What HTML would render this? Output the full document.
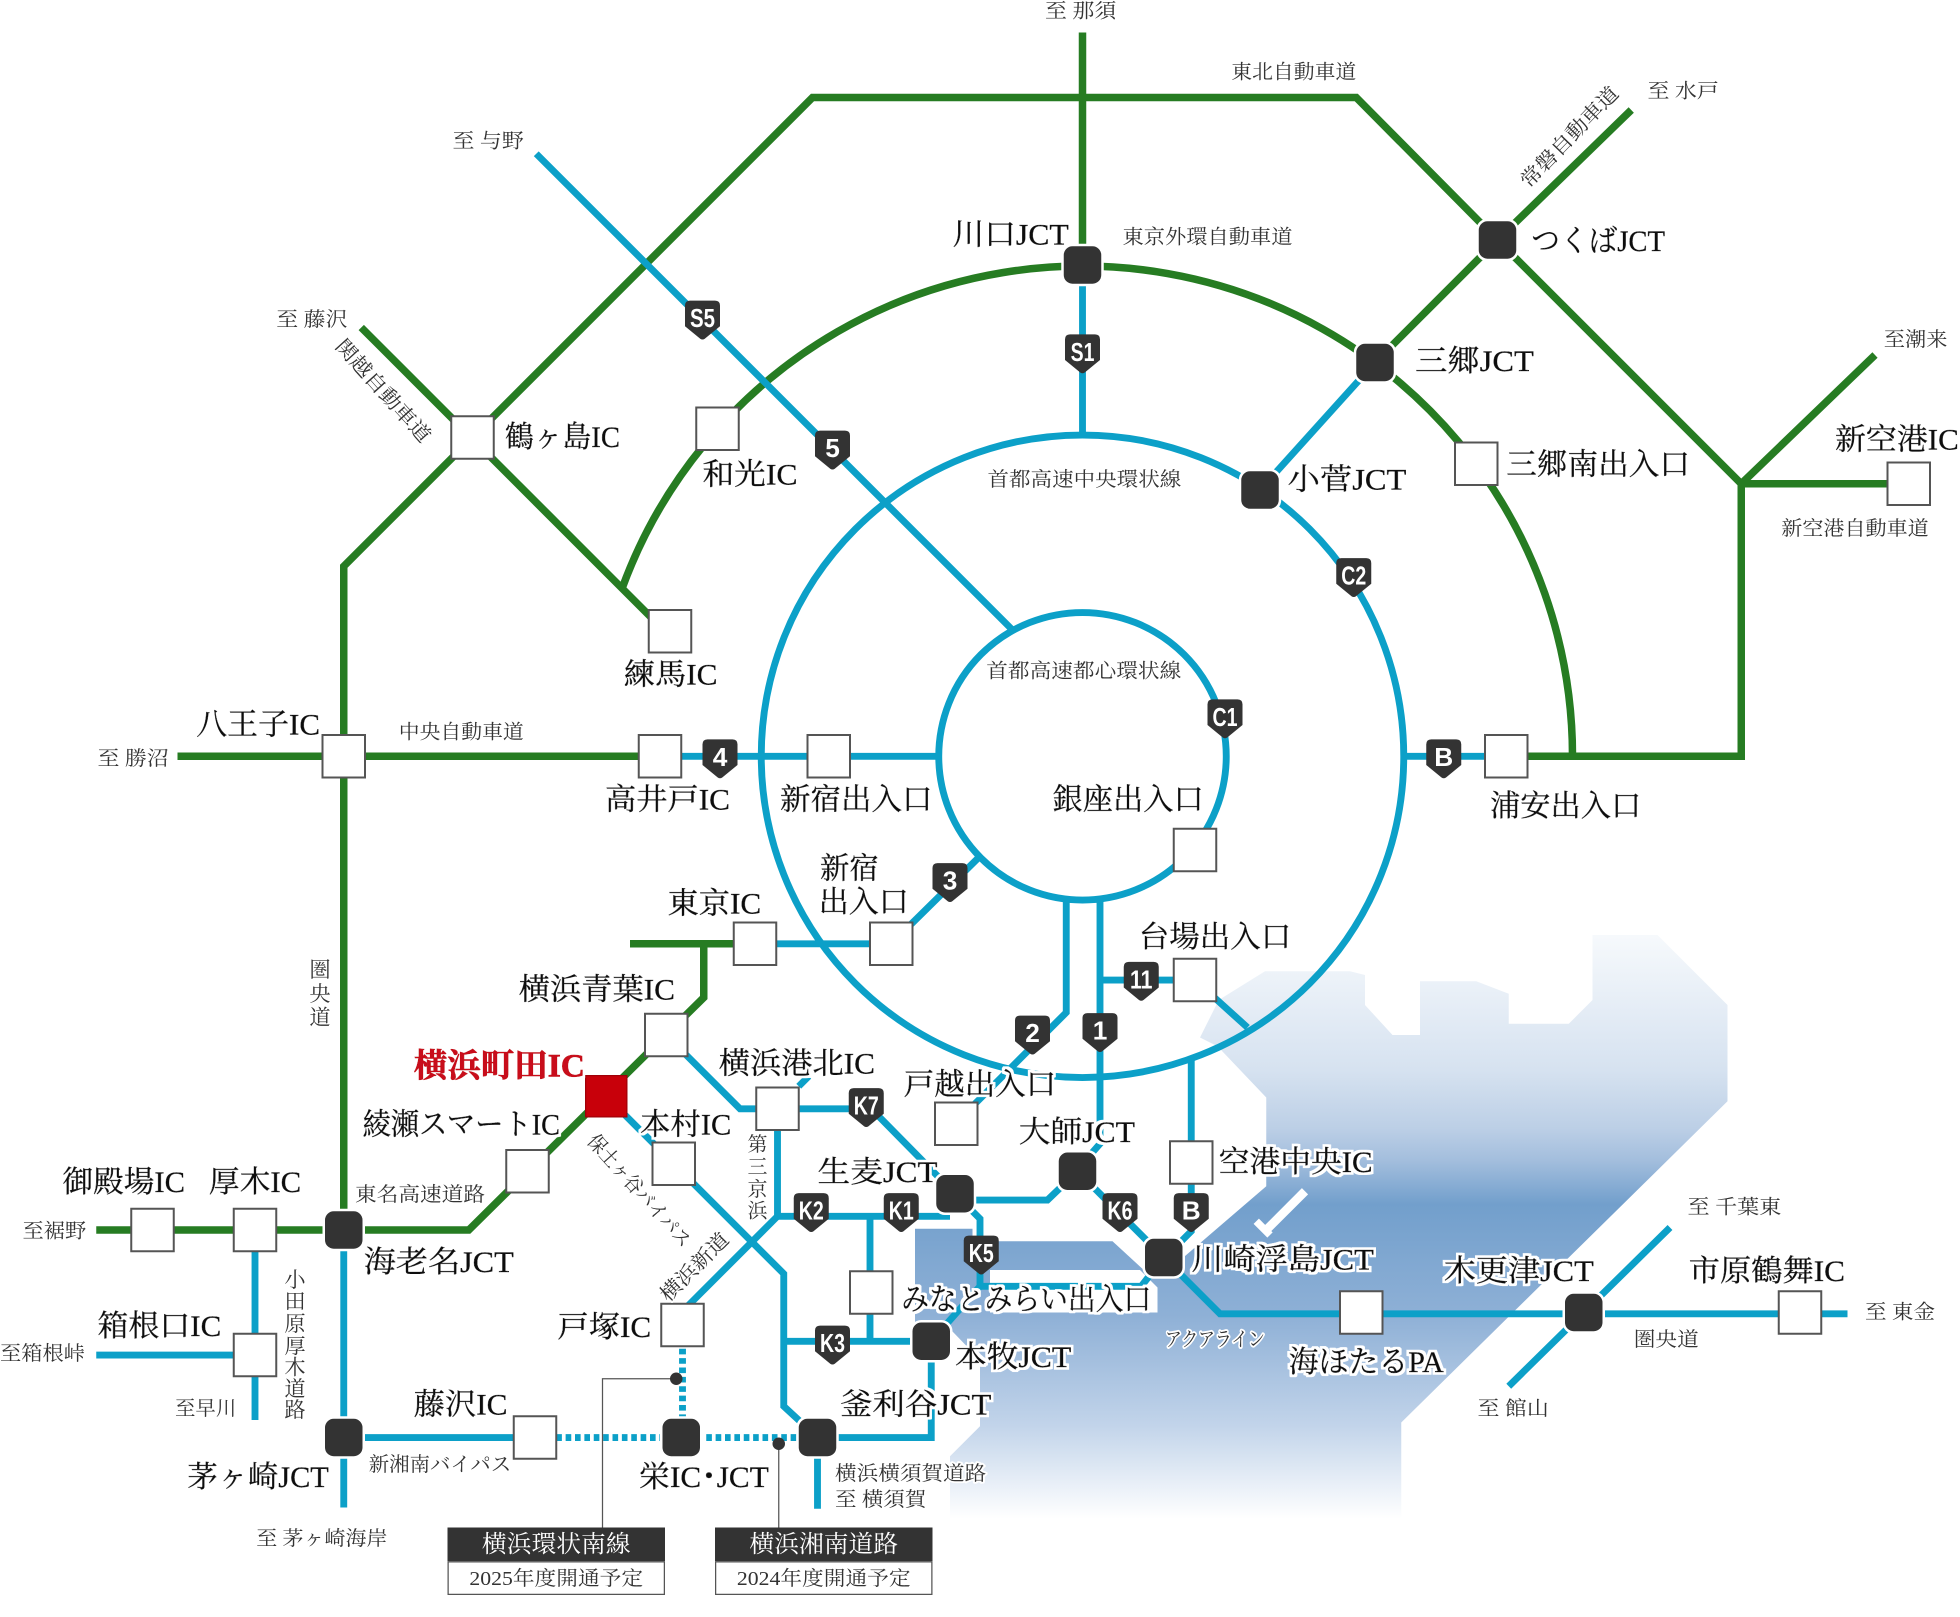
<!DOCTYPE html>
<html><head><meta charset="utf-8">
<style>
html,body{margin:0;padding:0;background:#fff;}
svg{display:block;}
.L{font-family:"Liberation Serif","Noto Serif CJK SC",serif;font-size:24px;fill:#111;stroke:#111;stroke-width:0.35px;dominant-baseline:central;filter:url(#halo);}
.R{font-family:"Liberation Serif","Noto Serif CJK SC",serif;font-size:26px;fill:#c8101a;stroke:#c8101a;stroke-width:0.6px;dominant-baseline:central;font-weight:bold;filter:url(#halo);}
.s{font-family:"Liberation Serif","Noto Serif CJK SC",serif;font-size:16px;fill:#333;stroke:#fff;stroke-width:3px;stroke-linejoin:round;paint-order:stroke;dominant-baseline:central;}
.v{font-family:"Liberation Serif","Noto Serif CJK SC",serif;font-size:17px;fill:#333;text-anchor:middle;dominant-baseline:central;}
.g{fill:none;stroke:#267c22;stroke-width:6;}
.b{fill:none;stroke:#0ca0c8;stroke-width:5.5;}
.d{fill:none;stroke:#0ca0c8;stroke-width:5.5;stroke-dasharray:4.5 3;}
.sh text{font-family:"Liberation Sans Narrow","Liberation Sans","DejaVu Sans",sans-serif;font-weight:bold;font-size:21px;fill:#fff;text-anchor:middle;dominant-baseline:central;}
.ic{fill:#fff;stroke:#555;stroke-width:1.6;}
.jc{fill:#333;stroke:#fff;stroke-width:2;}
.bx{font-family:"Liberation Serif","Noto Serif CJK SC",serif;text-anchor:middle;dominant-baseline:central;}
</style></head>
<body>
<svg width="1960" height="1617" viewBox="0 0 1568 1293.6" xmlns="http://www.w3.org/2000/svg">
<defs>
<filter id="halo" x="-0.1" y="-0.4" width="1.2" height="1.8">
<feMorphology in="SourceAlpha" operator="dilate" radius="2" result="dil"/>
<feFlood flood-color="#fff" result="w"/>
<feComposite in="w" in2="dil" operator="in" result="wh"/>
<feMerge><feMergeNode in="wh"/><feMergeNode in="SourceGraphic"/></feMerge>
</filter>
<linearGradient id="wg" x1="0" y1="749" x2="0" y2="1215" gradientUnits="userSpaceOnUse">
<stop offset="0" stop-color="#f6f9fc"/>
<stop offset="0.23" stop-color="#d6e2f0"/>
<stop offset="0.33" stop-color="#bccfe6"/>
<stop offset="0.385" stop-color="#a3bedd"/>
<stop offset="0.46" stop-color="#729fcc"/>
<stop offset="0.65" stop-color="#8eb0d6"/>
<stop offset="0.84" stop-color="#c2d4ea"/>
<stop offset="1" stop-color="#ffffff"/>
</linearGradient>
<path id="shp" d="M-14,-11.5 Q-14,-15.5 -10,-15.5 H10 Q14,-15.5 14,-11.5 V5 L1.8,15 Q0,16.2 -1.8,15 L-14,5 Z"/>
</defs>

<!-- water -->
<path fill="url(#wg)" d="M975,800 L1012,777 L1080,777 L1092,780 L1092,804 L1114,828 L1136,828 L1136,785 L1181,785 L1207,795 L1207,819 L1255,819 L1274,800 L1274,748 L1326,748 L1382,804 L1382,881 L1121,1138 L1121,1215 L760,1215 L760,1165 L784,1141 L784,1088 L757,1060 L732,1060 L732,983 L778,983 L778,993 L890,993 L915,1016 L935,1016 L1013,949 L1013,878 L974,837 L960,830 Z"/>
<path fill="#fff" d="M792,1016 H912 L926,1030 V1050 H792 Z"/>
<path d="M1011,986 L1044,953" stroke="#fff" stroke-width="7" fill="none"/>
<path d="M1005,977 L1016,988" stroke="#fff" stroke-width="6" fill="none"/>

<!-- green lines -->
<path class="g" d="M866,26 V212"/>
<path class="g" d="M275,985 V453 L650,78 H1085 L1198,192"/>
<path class="g" d="M289,262 L530,503"/>
<path class="g" d="M497.6,470.9 A392 392 0 0 1 1258,605"/>
<path class="g" d="M1198,192 L1305,88"/>
<path class="g" d="M1198,192 L1100,290"/>
<path class="g" d="M1198,192 L1393,387 V605 H1205"/>
<path class="g" d="M1393,387 L1500,284"/>
<path class="g" d="M1393,387 H1527"/>
<path class="g" d="M142,605 H528"/>
<path class="g" d="M504,755 H604"/>
<path class="g" d="M563,755 V798 L375,984 H77"/>

<!-- blue lines -->
<path class="b" d="M429,123 L809,503"/>
<path class="b" d="M866,212 V348"/>
<path class="b" d="M1100,290 L1008,392"/>
<circle class="b" cx="866" cy="605" r="257"/>
<circle class="b" cx="866" cy="605" r="115"/>
<path class="b" d="M528,605 H751"/>
<path class="b" d="M1122,605 H1205"/>
<path class="b" d="M713,755 L785,684"/>
<path class="b" d="M604,755 H713"/>
<path class="b" d="M853,719 V810 L765,898"/>
<path class="b" d="M880,719 V915 L866,931"/>
<path class="b" d="M880,784 H956"/>
<path class="b" d="M956,784 L998,822"/>
<path class="b" d="M953,847 V985 L934,1004"/>
<path class="b" d="M862,937 L931,1006"/>
<path class="b" d="M764,960 H838 L862,937"/>
<path class="b" d="M764,955 L784,975 V1029 H913 L931,1006"/>
<path class="b" d="M784,1029 L745,1073"/>
<path class="b" d="M533,828 L592,887 H697 L764,955"/>
<path class="b" d="M639,869 L647,861"/>
<path class="b" d="M622,887 V973 H760"/>
<path class="b" d="M622,973 L546,1049"/>
<path class="b" d="M485,877 L627,1019 V1125 L654,1150"/>
<path class="b" d="M627,1073 H745"/>
<path class="b" d="M696,973 V1073"/>
<path class="b" d="M745,1073 V1150 H654"/>
<path class="b" d="M654,1150 V1207"/>
<path class="b" d="M275,984 V1206"/>
<path class="b" d="M275,1150 H428"/>
<path class="d" d="M445,1150 H640"/>
<path class="d" d="M546,1079 V1140"/>
<path class="b" d="M77,1084 H204"/>
<path class="b" d="M204,984 V1136"/>
<path class="b" d="M931,1006 L976,1051 H1478"/>
<path class="b" d="M1336,982 L1207,1109"/>

<!-- leader lines -->
<path d="M482,1222 V1103 H541" stroke="#555" stroke-width="1" fill="none"/>
<path d="M623,1222 V1155" stroke="#555" stroke-width="1" fill="none"/>
<circle cx="541" cy="1103" r="5" fill="#333"/>
<circle cx="623" cy="1155" r="5" fill="#333"/>

<!-- shields -->
<g class="sh">
<g transform="translate(562,256)"><use href="#shp" fill="#333"/><text y="-1.5" textLength="20" lengthAdjust="spacingAndGlyphs">S5</text></g>
<g transform="translate(666,360)"><use href="#shp" fill="#333"/><text y="-1.5">5</text></g>
<g transform="translate(866,283)"><use href="#shp" fill="#333"/><text y="-1.5" textLength="19" lengthAdjust="spacingAndGlyphs">S1</text></g>
<g transform="translate(1083,462)"><use href="#shp" fill="#333"/><text y="-1.5" textLength="20" lengthAdjust="spacingAndGlyphs">C2</text></g>
<g transform="translate(980,575)"><use href="#shp" fill="#333"/><text y="-1.5" textLength="20" lengthAdjust="spacingAndGlyphs">C1</text></g>
<g transform="translate(1155,607)"><use href="#shp" fill="#333"/><text y="-1.5">B</text></g>
<g transform="translate(576,607)"><use href="#shp" fill="#333"/><text y="-1.5">4</text></g>
<g transform="translate(760,706)"><use href="#shp" fill="#333"/><text y="-1.5">3</text></g>
<g transform="translate(826,828)"><use href="#shp" fill="#333"/><text y="-1.5">2</text></g>
<g transform="translate(880,826)"><use href="#shp" fill="#333"/><text y="-1.5">1</text></g>
<g transform="translate(913,785)"><use href="#shp" fill="#333"/><text y="-1.5" textLength="18" lengthAdjust="spacingAndGlyphs">11</text></g>
<g transform="translate(693,886)"><use href="#shp" fill="#333"/><text y="-1.5" textLength="20" lengthAdjust="spacingAndGlyphs">K7</text></g>
<g transform="translate(649,970)"><use href="#shp" fill="#333"/><text y="-1.5" textLength="20" lengthAdjust="spacingAndGlyphs">K2</text></g>
<g transform="translate(721,970)"><use href="#shp" fill="#333"/><text y="-1.5" textLength="20" lengthAdjust="spacingAndGlyphs">K1</text></g>
<g transform="translate(785,1004)"><use href="#shp" fill="#333"/><text y="-1.5" textLength="20" lengthAdjust="spacingAndGlyphs">K5</text></g>
<g transform="translate(896,970)"><use href="#shp" fill="#333"/><text y="-1.5" textLength="20" lengthAdjust="spacingAndGlyphs">K6</text></g>
<g transform="translate(953,970)"><use href="#shp" fill="#333"/><text y="-1.5">B</text></g>
<g transform="translate(666,1076)"><use href="#shp" fill="#333"/><text y="-1.5" textLength="20" lengthAdjust="spacingAndGlyphs">K3</text></g>
</g>

<!-- IC boxes -->
<g>
<rect class="ic" x="361" y="333" width="34" height="34"/>
<rect class="ic" x="557" y="326" width="34" height="34"/>
<rect class="ic" x="519" y="488" width="34" height="34"/>
<rect class="ic" x="1164" y="354" width="34" height="34"/>
<rect class="ic" x="1510" y="370" width="34" height="34"/>
<rect class="ic" x="258" y="588" width="34" height="34"/>
<rect class="ic" x="511" y="588" width="34" height="34"/>
<rect class="ic" x="646" y="588" width="34" height="34"/>
<rect class="ic" x="1188" y="588" width="34" height="34"/>
<rect class="ic" x="939" y="663" width="34" height="34"/>
<rect class="ic" x="587" y="738" width="34" height="34"/>
<rect class="ic" x="696" y="738" width="34" height="34"/>
<rect class="ic" x="939" y="767" width="34" height="34"/>
<rect class="ic" x="516" y="811" width="34" height="34"/>
<rect class="ic" x="405" y="920" width="34" height="34"/>
<rect class="ic" x="522" y="914" width="34" height="34"/>
<rect class="ic" x="605" y="870" width="34" height="34"/>
<rect class="ic" x="748" y="882" width="34" height="34"/>
<rect class="ic" x="936" y="913" width="34" height="34"/>
<rect class="ic" x="105" y="967" width="34" height="34"/>
<rect class="ic" x="187" y="967" width="34" height="34"/>
<rect class="ic" x="187" y="1067" width="34" height="34"/>
<rect class="ic" x="529" y="1043" width="34" height="34"/>
<rect class="ic" x="680" y="1017" width="34" height="34"/>
<rect class="ic" x="411" y="1133" width="34" height="34"/>
<rect class="ic" x="1072" y="1033" width="34" height="34"/>
<rect class="ic" x="1423" y="1033" width="34" height="34"/>
<rect x="468.5" y="860.5" width="33" height="33" fill="#c8000a" stroke="#a00008" stroke-width="1"/>
</g>

<!-- JCTs -->
<g>
<rect class="jc" x="850" y="196" width="32" height="32" rx="8"/>
<rect class="jc" x="1182" y="176" width="32" height="32" rx="8"/>
<rect class="jc" x="1084" y="274" width="32" height="32" rx="8"/>
<rect class="jc" x="992" y="376" width="32" height="32" rx="8"/>
<rect class="jc" x="259" y="968" width="32" height="32" rx="8"/>
<rect class="jc" x="259" y="1134" width="32" height="32" rx="8"/>
<rect class="jc" x="748" y="939" width="32" height="32" rx="8"/>
<rect class="jc" x="846" y="921" width="32" height="32" rx="8"/>
<rect class="jc" x="915" y="990" width="32" height="32" rx="8"/>
<rect class="jc" x="729" y="1057" width="32" height="32" rx="8"/>
<rect class="jc" x="638" y="1134" width="32" height="32" rx="8"/>
<rect class="jc" x="529" y="1134" width="32" height="32" rx="8"/>
<rect class="jc" x="1251" y="1034" width="32" height="32" rx="8"/>
</g>

<!-- big labels -->
<g>
<text class="L" x="762" y="188" textLength="93" lengthAdjust="spacingAndGlyphs">川口JCT</text>
<text class="L" x="1225" y="193" textLength="107" lengthAdjust="spacingAndGlyphs">つくばJCT</text>
<text class="L" x="1132" y="289" textLength="95" lengthAdjust="spacingAndGlyphs">三郷JCT</text>
<text class="L" x="404" y="350" textLength="92" lengthAdjust="spacingAndGlyphs">鶴ヶ島IC</text>
<text class="L" x="562" y="380" textLength="76" lengthAdjust="spacingAndGlyphs">和光IC</text>
<text class="L" x="1030" y="384" textLength="95" lengthAdjust="spacingAndGlyphs">小菅JCT</text>
<text class="L" x="1205" y="372" textLength="147" lengthAdjust="spacingAndGlyphs">三郷南出入口</text>
<text class="L" x="1468" y="352" textLength="99" lengthAdjust="spacingAndGlyphs">新空港IC</text>
<text class="L" x="499" y="540" textLength="75" lengthAdjust="spacingAndGlyphs">練馬IC</text>
<text class="L" x="157" y="580" textLength="99" lengthAdjust="spacingAndGlyphs">八王子IC</text>
<text class="L" x="484" y="640" textLength="100" lengthAdjust="spacingAndGlyphs">高井戸IC</text>
<text class="L" x="624" y="640" textLength="122" lengthAdjust="spacingAndGlyphs">新宿出入口</text>
<text class="L" x="842" y="640" textLength="121" lengthAdjust="spacingAndGlyphs">銀座出入口</text>
<text class="L" x="1192" y="645" textLength="121" lengthAdjust="spacingAndGlyphs">浦安出入口</text>
<text class="L" x="656" y="695" textLength="47" lengthAdjust="spacingAndGlyphs">新宿</text>
<text class="L" x="655" y="722" textLength="72" lengthAdjust="spacingAndGlyphs">出入口</text>
<text class="L" x="534" y="723" textLength="75" lengthAdjust="spacingAndGlyphs">東京IC</text>
<text class="L" x="911" y="750" textLength="122" lengthAdjust="spacingAndGlyphs">台場出入口</text>
<text class="L" x="415" y="792" textLength="125" lengthAdjust="spacingAndGlyphs">横浜青葉IC</text>
<text class="R" x="331" y="853" textLength="137" lengthAdjust="spacingAndGlyphs">横浜町田IC</text>
<text class="L" x="575" y="851" textLength="125" lengthAdjust="spacingAndGlyphs">横浜港北IC</text>
<text class="L" x="723" y="868" textLength="122" lengthAdjust="spacingAndGlyphs">戸越出入口</text>
<text class="L" x="290" y="900" textLength="158" lengthAdjust="spacingAndGlyphs">綾瀬スマートIC</text>
<text class="L" x="512" y="900" textLength="73" lengthAdjust="spacingAndGlyphs">本村IC</text>
<text class="L" x="815" y="906" textLength="93" lengthAdjust="spacingAndGlyphs">大師JCT</text>
<text class="L" x="975" y="930" textLength="123" lengthAdjust="spacingAndGlyphs">空港中央IC</text>
<text class="L" x="50" y="946" textLength="98" lengthAdjust="spacingAndGlyphs">御殿場IC</text>
<text class="L" x="167" y="946" textLength="74" lengthAdjust="spacingAndGlyphs">厚木IC</text>
<text class="L" x="654" y="938" textLength="96" lengthAdjust="spacingAndGlyphs">生麦JCT</text>
<text class="L" x="291" y="1010" textLength="120" lengthAdjust="spacingAndGlyphs">海老名JCT</text>
<text class="L" x="953" y="1008" textLength="146" lengthAdjust="spacingAndGlyphs">川崎浮島JCT</text>
<text class="L" x="1155" y="1017" textLength="120" lengthAdjust="spacingAndGlyphs">木更津JCT</text>
<text class="L" x="1351" y="1017" textLength="125" lengthAdjust="spacingAndGlyphs">市原鶴舞IC</text>
<text class="L" x="721" y="1040" textLength="200" lengthAdjust="spacingAndGlyphs">みなとみらい出入口</text>
<text class="L" x="78" y="1061" textLength="99" lengthAdjust="spacingAndGlyphs">箱根口IC</text>
<text class="L" x="446" y="1062" textLength="75" lengthAdjust="spacingAndGlyphs">戸塚IC</text>
<text class="L" x="764" y="1086" textLength="93" lengthAdjust="spacingAndGlyphs">本牧JCT</text>
<text class="L" x="1031" y="1090" textLength="124" lengthAdjust="spacingAndGlyphs">海ほたるPA</text>
<text class="L" x="331" y="1124" textLength="75" lengthAdjust="spacingAndGlyphs">藤沢IC</text>
<text class="L" x="672" y="1124" textLength="121" lengthAdjust="spacingAndGlyphs">釜利谷JCT</text>
<text class="L" x="150" y="1182" textLength="113" lengthAdjust="spacingAndGlyphs">茅ヶ崎JCT</text>
<text class="L" x="511" y="1182" textLength="104" lengthAdjust="spacingAndGlyphs">栄IC･JCT</text>
</g>

<!-- small labels -->
<g>
<text class="s" x="836" y="9" textLength="57" lengthAdjust="spacingAndGlyphs">至 那須</text>
<text class="s" x="985" y="58" textLength="100" lengthAdjust="spacingAndGlyphs">東北自動車道</text>
<text class="s" x="1318" y="73" textLength="57" lengthAdjust="spacingAndGlyphs">至 水戸</text>
<text class="s" x="362" y="113" textLength="57" lengthAdjust="spacingAndGlyphs">至 与野</text>
<text class="s" x="898" y="190" textLength="136" lengthAdjust="spacingAndGlyphs">東京外環自動車道</text>
<text class="s" x="221" y="256" textLength="57" lengthAdjust="spacingAndGlyphs">至 藤沢</text>
<text class="s" x="1507" y="272" textLength="51" lengthAdjust="spacingAndGlyphs">至潮来</text>
<text class="s" x="790" y="384" textLength="155" lengthAdjust="spacingAndGlyphs">首都高速中央環状線</text>
<text class="s" x="1425" y="423" textLength="118" lengthAdjust="spacingAndGlyphs">新空港自動車道</text>
<text class="s" x="789" y="537" textLength="156" lengthAdjust="spacingAndGlyphs">首都高速都心環状線</text>
<text class="s" x="319" y="586" textLength="100" lengthAdjust="spacingAndGlyphs">中央自動車道</text>
<text class="s" x="78" y="607" textLength="57" lengthAdjust="spacingAndGlyphs">至 勝沼</text>
<text class="s" x="284" y="956" textLength="104" lengthAdjust="spacingAndGlyphs">東名高速道路</text>
<text class="s" x="18" y="985" textLength="51" lengthAdjust="spacingAndGlyphs">至裾野</text>
<text class="s" x="1350" y="966" textLength="75" lengthAdjust="spacingAndGlyphs">至 千葉東</text>
<text class="s" x="1492" y="1050" textLength="56" lengthAdjust="spacingAndGlyphs">至 東金</text>
<text class="s" x="932" y="1072" textLength="80" lengthAdjust="spacingAndGlyphs">アクアライン</text>
<text class="s" x="1307" y="1072" textLength="52" lengthAdjust="spacingAndGlyphs">圏央道</text>
<text class="s" x="0" y="1083" textLength="68" lengthAdjust="spacingAndGlyphs">至箱根峠</text>
<text class="s" x="140" y="1127" textLength="49" lengthAdjust="spacingAndGlyphs">至早川</text>
<text class="s" x="1182" y="1127" textLength="57" lengthAdjust="spacingAndGlyphs">至 館山</text>
<text class="s" x="295" y="1172" textLength="114" lengthAdjust="spacingAndGlyphs">新湘南バイパス</text>
<text class="s" x="668" y="1179" textLength="121" lengthAdjust="spacingAndGlyphs">横浜横須賀道路</text>
<text class="s" x="668" y="1200" textLength="73" lengthAdjust="spacingAndGlyphs">至 横須賀</text>
<text class="s" x="205" y="1231" textLength="105" lengthAdjust="spacingAndGlyphs">至 茅ヶ崎海岸</text>
<text class="s" transform="translate(306,313) rotate(48)" text-anchor="middle" textLength="105" lengthAdjust="spacingAndGlyphs">関越自動車道</text>
<text class="s" transform="translate(1256,110) rotate(-46)" text-anchor="middle" textLength="105" lengthAdjust="spacingAndGlyphs">常磐自動車道</text>
<text class="s" transform="translate(556,1014) rotate(-45)" text-anchor="middle" textLength="70" lengthAdjust="spacingAndGlyphs">横浜新道</text>
<text class="s" transform="translate(511,953) rotate(48)" text-anchor="middle" textLength="115" lengthAdjust="spacingAndGlyphs">保土ヶ谷バイパス</text>
</g>

<!-- vertical labels -->
<g class="v">
<text x="256" y="776">圏</text><text x="256" y="795">央</text><text x="256" y="814">道</text>
<text x="606" y="916" font-size="16">第</text><text x="606" y="934" font-size="16">三</text><text x="606" y="952" font-size="16">京</text><text x="606" y="969" font-size="16">浜</text>
<text x="236" y="1024">小</text><text x="236" y="1041">田</text><text x="236" y="1059">原</text><text x="236" y="1077">厚</text><text x="236" y="1094">木</text><text x="236" y="1111">道</text><text x="236" y="1128">路</text>
</g>

<!-- label boxes -->
<rect x="358" y="1222" width="174" height="27" fill="#333"/>
<rect x="358.5" y="1249.5" width="173" height="26" fill="#fff" stroke="#555" stroke-width="1"/>
<text class="bx" x="445" y="1236" font-size="19" fill="#fff" textLength="119" lengthAdjust="spacingAndGlyphs">横浜環状南線</text>
<text class="bx" x="445" y="1263" font-size="16" fill="#333" textLength="139" lengthAdjust="spacingAndGlyphs">2025年度開通予定</text>
<rect x="572" y="1222" width="174" height="27" fill="#333"/>
<rect x="572.5" y="1249.5" width="173" height="26" fill="#fff" stroke="#555" stroke-width="1"/>
<text class="bx" x="659" y="1236" font-size="19" fill="#fff" textLength="119" lengthAdjust="spacingAndGlyphs">横浜湘南道路</text>
<text class="bx" x="659" y="1263" font-size="16" fill="#333" textLength="139" lengthAdjust="spacingAndGlyphs">2024年度開通予定</text>
</svg>
</body></html>
